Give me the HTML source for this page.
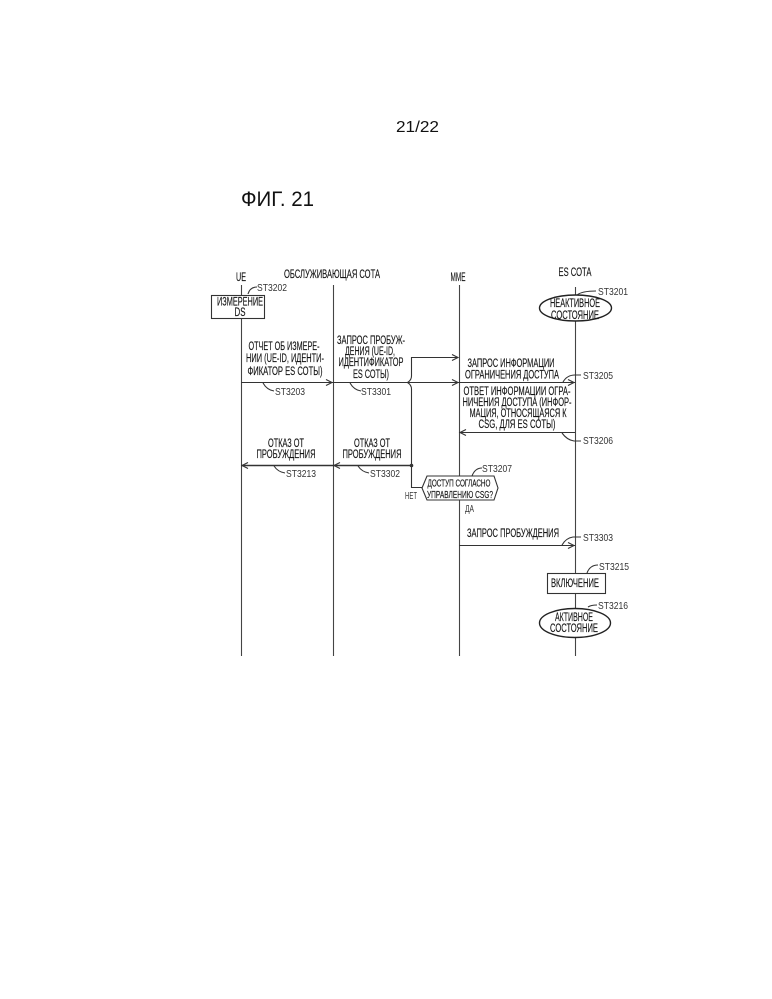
<!DOCTYPE html>
<html><head><meta charset="utf-8"><style>
html,body{margin:0;padding:0;background:#fff}
svg{display:block}
text{font-family:"Liberation Sans",sans-serif;fill:#111}
.t{font-size:11.5px;stroke:#222;stroke-width:.15px}
.s{font-size:10.5px;fill:#333}
.m{text-anchor:middle}
line,path,rect,ellipse,polygon{stroke:#333;stroke-width:1.1;fill:none}
.l{stroke:#444}
.e{stroke:#222;stroke-width:1.4}
</style></head><body>
<svg width="772" height="999" viewBox="0 0 772 999" xmlns="http://www.w3.org/2000/svg">
<text x="396" y="132" font-size="16" textLength="43" lengthAdjust="spacingAndGlyphs">21/22</text>
<text x="241" y="206" font-size="21" textLength="73" lengthAdjust="spacingAndGlyphs">ФИГ. 21</text>

<line class="l" x1="241.5" y1="285" x2="241.5" y2="656"/>
<line class="l" x1="333.5" y1="285" x2="333.5" y2="656"/>
<line class="l" x1="459.5" y1="285" x2="459.5" y2="656"/>
<line class="l" x1="575.5" y1="287" x2="575.5" y2="656"/>

<text class="t m" x="241" y="281" textLength="10" lengthAdjust="spacingAndGlyphs">UE</text>
<text class="t m" x="332" y="278" textLength="96" lengthAdjust="spacingAndGlyphs">ОБСЛУЖИВАЮЩАЯ СОТА</text>
<text class="t m" x="458" y="281" textLength="15" lengthAdjust="spacingAndGlyphs">MME</text>
<text class="t m" x="575" y="276" textLength="33" lengthAdjust="spacingAndGlyphs">ES СОТА</text>

<rect x="211.500" y="295.500" width="53" height="23" style="fill:#fff"/>
<text class="t m" x="240" y="305.500" textLength="46" lengthAdjust="spacingAndGlyphs">ИЗМЕРЕНИЕ</text>
<text class="t m" x="240" y="316" textLength="11" lengthAdjust="spacingAndGlyphs">DS</text>
<path d="M248 294q2-7 9-7"/>
<text class="s" x="257" y="291" textLength="30" lengthAdjust="spacingAndGlyphs">ST3202</text>

<ellipse class="e" cx="575.500" cy="308" rx="36" ry="13" style="fill:#fff"/>
<text class="t m" x="575" y="307" textLength="50" lengthAdjust="spacingAndGlyphs">НЕАКТИВНОЕ</text>
<text class="t m" x="575" y="319" textLength="48" lengthAdjust="spacingAndGlyphs">СОСТОЯНИЕ</text>
<path d="M577 295q5-4 19-4"/>
<text class="s" x="598" y="295" textLength="30" lengthAdjust="spacingAndGlyphs">ST3201</text>

<text class="t m" x="284" y="350" textLength="71" lengthAdjust="spacingAndGlyphs">ОТЧЕТ ОБ ИЗМЕРЕ-</text>
<text class="t m" x="285" y="362" textLength="78" lengthAdjust="spacingAndGlyphs">НИИ (UE-ID, ИДЕНТИ-</text>
<text class="t m" x="285" y="375" textLength="75" lengthAdjust="spacingAndGlyphs">ФИКАТОР ES СОТЫ)</text>
<line x1="241" y1="382.500" x2="333" y2="382.500"/>
<path d="M326 379.500l6 3l-6 3"/>
<path d="M263 383q4 7 11 8"/>
<text class="s" x="275" y="395" textLength="30" lengthAdjust="spacingAndGlyphs">ST3203</text>

<text class="t m" x="371" y="344" textLength="68" lengthAdjust="spacingAndGlyphs">ЗАПРОС ПРОБУЖ-</text>
<text class="t m" x="370" y="355" textLength="50" lengthAdjust="spacingAndGlyphs">ДЕНИЯ (UE-ID,</text>
<text class="t m" x="371" y="366" textLength="65" lengthAdjust="spacingAndGlyphs">ИДЕНТИФИКАТОР</text>
<text class="t m" x="371" y="378" textLength="36" lengthAdjust="spacingAndGlyphs">ES СОТЫ)</text>
<line x1="333" y1="382.500" x2="575" y2="382.500"/>
<path d="M452 379.500l6 3l-6 3"/>
<path d="M568 379.500l6 3l-6 3"/>
<path d="M350 383q4 7 11 8"/>
<text class="s" x="361" y="395" textLength="30" lengthAdjust="spacingAndGlyphs">ST3301</text>

<path d="M458 357.500H411.500V376q0 4-4 6.500q4 2.500 4 6.500V487.500H423"/>
<path d="M452 354.500l6 3l-6 3"/>

<text class="t m" x="511" y="367" textLength="87" lengthAdjust="spacingAndGlyphs">ЗАПРОС ИНФОРМАЦИИ</text>
<text class="t m" x="512" y="378.500" textLength="94" lengthAdjust="spacingAndGlyphs">ОГРАНИЧЕНИЯ ДОСТУПА</text>
<path d="M563 382q4-7 12-7h6"/>
<text class="s" x="583" y="379" textLength="30" lengthAdjust="spacingAndGlyphs">ST3205</text>

<text class="t m" x="517" y="395" textLength="107" lengthAdjust="spacingAndGlyphs">ОТВЕТ ИНФОРМАЦИИ ОГРА-</text>
<text class="t m" x="517" y="406" textLength="109" lengthAdjust="spacingAndGlyphs">НИЧЕНИЯ ДОСТУПА (ИНФОР-</text>
<text class="t m" x="518" y="417" textLength="97" lengthAdjust="spacingAndGlyphs">МАЦИЯ, ОТНОСЯЩАЯСЯ К</text>
<text class="t m" x="517" y="428" textLength="77" lengthAdjust="spacingAndGlyphs">CSG, ДЛЯ ES СОТЫ)</text>
<line x1="459" y1="432.500" x2="575" y2="432.500"/>
<path d="M466 429.500l-6 3l6 3"/>
<path d="M562 433q5 7 12 8h7"/>
<text class="s" x="583" y="444" textLength="30" lengthAdjust="spacingAndGlyphs">ST3206</text>

<text class="t m" x="286" y="447" textLength="36" lengthAdjust="spacingAndGlyphs">ОТКАЗ ОТ</text>
<text class="t m" x="286" y="458" textLength="59" lengthAdjust="spacingAndGlyphs">ПРОБУЖДЕНИЯ</text>
<text class="t m" x="372" y="447" textLength="36" lengthAdjust="spacingAndGlyphs">ОТКАЗ ОТ</text>
<text class="t m" x="372" y="458" textLength="59" lengthAdjust="spacingAndGlyphs">ПРОБУЖДЕНИЯ</text>
<line x1="241" y1="465.500" x2="411" y2="465.500" style="stroke-width:1.400"/>
<path d="M248 462.500l-6 3l6 3"/>
<path d="M340 462.500l-6 3l6 3"/>
<circle cx="411.500" cy="465.500" r="1.800" fill="#333"/>
<path d="M274 466q4 6 11 7"/>
<text class="s" x="286" y="477" textLength="30" lengthAdjust="spacingAndGlyphs">ST3213</text>
<path d="M358 466q4 6 11 7"/>
<text class="s" x="370" y="477" textLength="30" lengthAdjust="spacingAndGlyphs">ST3302</text>

<polygon points="422,488 427,476 494,476 498,488 494,500 427,500" style="fill:#fff"/>
<text class="t m" x="459" y="486.500" style="font-size:10.500px" textLength="63" lengthAdjust="spacingAndGlyphs">ДОСТУП СОГЛАСНО</text>
<text class="t m" x="460" y="498" style="font-size:10.500px" textLength="66" lengthAdjust="spacingAndGlyphs">УПРАВЛЕНИЮ CSG?</text>
<path d="M472 476q3-8 10-8"/>
<text class="s" x="482" y="472" textLength="30" lengthAdjust="spacingAndGlyphs">ST3207</text>
<text x="405" y="499" font-size="10" textLength="12" lengthAdjust="spacingAndGlyphs" style="fill:#333">НЕТ</text>
<text x="465" y="512" font-size="10" textLength="9" lengthAdjust="spacingAndGlyphs" style="fill:#333">ДА</text>

<text class="t" x="467" y="537" textLength="92" lengthAdjust="spacingAndGlyphs">ЗАПРОС ПРОБУЖДЕНИЯ</text>
<line x1="459" y1="545.500" x2="575" y2="545.500"/>
<path d="M568 542.500l6 3l-6 3"/>
<path d="M562 545q4-7 11-8h8"/>
<text class="s" x="583" y="541" textLength="30" lengthAdjust="spacingAndGlyphs">ST3303</text>

<rect x="547.500" y="573.500" width="58" height="20" style="fill:#fff"/>
<text class="t m" x="575" y="587" textLength="48" lengthAdjust="spacingAndGlyphs">ВКЛЮЧЕНИЕ</text>
<path d="M587 573q3-8 11-8"/>
<text class="s" x="599" y="570" textLength="30" lengthAdjust="spacingAndGlyphs">ST3215</text>

<ellipse class="e" cx="575" cy="623" rx="35.500" ry="14.500" style="fill:#fff"/>
<text class="t m" x="574" y="621" textLength="38" lengthAdjust="spacingAndGlyphs">АКТИВНОЕ</text>
<text class="t m" x="574" y="632" textLength="48" lengthAdjust="spacingAndGlyphs">СОСТОЯНИЕ</text>
<path d="M588 607q3-2 9-2"/>
<text class="s" x="598" y="609" textLength="30" lengthAdjust="spacingAndGlyphs">ST3216</text>
</svg>
</body></html>
